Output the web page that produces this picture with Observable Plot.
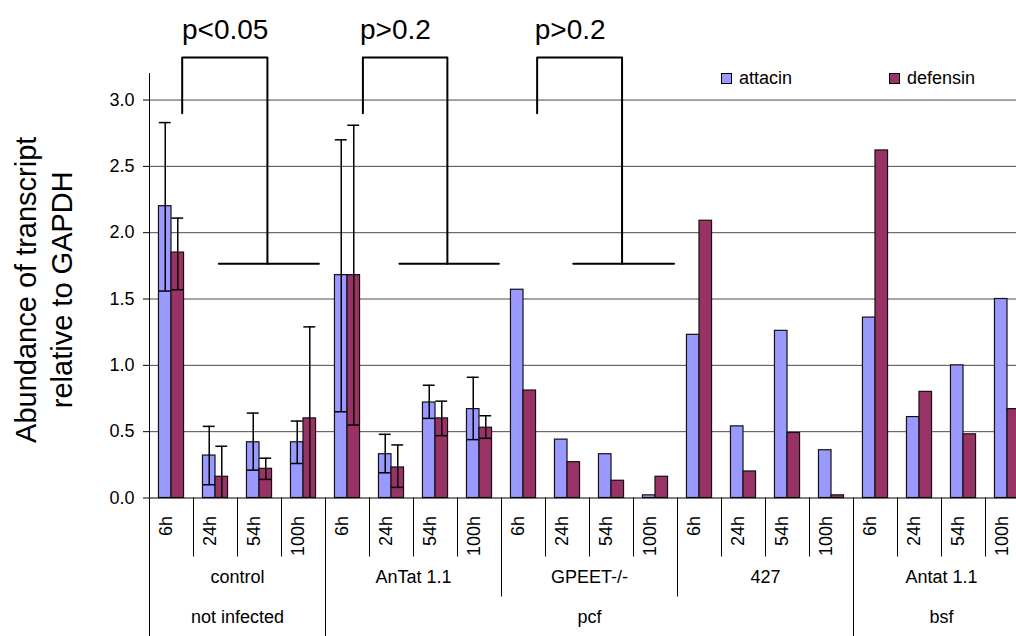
<!DOCTYPE html>
<html>
<head>
<meta charset="utf-8">
<script src="https://cdn.jsdelivr.net/npm/d3@7"></script>
<script src="https://cdn.jsdelivr.net/npm/@observablehq/plot@0.6"></script>
<style>
  html, body { margin: 0; padding: 0; background: #fff; overflow: hidden; }
  #wrap { position: relative; width: 1016px; height: 636px; overflow: hidden;
          font-family: "Liberation Sans", Arial, sans-serif; }
  #wrap svg { overflow: hidden !important; }
  .lg { position: absolute; display: flex; align-items: center; font-size: 18px; line-height: 18px; color: #000; }
  .lg .sw { width: 11px; height: 11px; box-sizing: border-box; border: 1.2px solid #000; margin-right: 7px; }
</style>
</head>
<body>
<div id="wrap"></div>
<script>
// ---------------- data ----------------
const stages = ["not infected", "pcf", "bsf"];
const strains = ["control", "AnTat 1.1", "GPEET-/-", "427", "Antat 1.1"];
const strainStage = ["not infected", "pcf", "pcf", "pcf", "bsf"];
const times = ["6h", "24h", "54h", "100h"];
const series = ["attacin", "defensin"];
const seriesColors = ["#9999FF", "#993366"];

const attacin  = [2.20, 0.32, 0.42, 0.42, 1.68, 0.33, 0.72, 0.67, 1.57, 0.44, 0.33, 0.02, 1.23, 0.54, 1.26, 0.36, 1.36, 0.61, 1.00, 1.50];
const defensin = [1.85, 0.16, 0.22, 0.60, 1.68, 0.23, 0.60, 0.53, 0.81, 0.27, 0.13, 0.16, 2.09, 0.20, 0.49, 0.02, 2.62, 0.80, 0.48, 0.67];
const attacinLow   = [1.56, 0.10, 0.21, 0.26, 0.65, 0.19, 0.60, 0.44];
const attacinHigh  = [2.83, 0.54, 0.64, 0.58, 2.70, 0.48, 0.85, 0.91];
const defensinLow  = [1.57, 0.00, 0.14, 0.00, 0.55, 0.08, 0.47, 0.45];
const defensinHigh = [2.11, 0.39, 0.30, 1.29, 2.81, 0.40, 0.73, 0.62];

const yTicks = [0, 0.5, 1, 1.5, 2, 2.5, 3];
const gridValues = [0.5, 1, 1.5, 2, 2.5, 3];

const pLabels = ["p<0.05", "p>0.2", "p>0.2"];

// annotation geometry (category-index units on x, value units on y)
const bracketGeom = [
  {label: 0, textX: 1.72, left: 0.743, right: 2.68, barStart: 1.575, barEnd: 3.85},
  {label: 1, textX: 5.59, left: 4.85,  right: 6.77, barStart: 5.68,  barEnd: 7.94},
  {label: 2, textX: 9.56, left: 8.81,  right: 10.74, barStart: 9.63, barEnd: 11.92}
];
const bracketTop = 3.32, legBottom = 2.90, barLevel = 1.766, labelY = 3.46;

// ---------------- tables ----------------
const nT = times.length;
const rows = [];
strains.forEach((s, si) => times.forEach((t, ti) => {
  const i = si * nT + ti;
  rows.push({i, strain: s, time: t, attacin: attacin[i], defensin: defensin[i]});
}));
const errs = [];
attacinLow.forEach((lo, i) => errs.push({i, s: 0, lo, hi: attacinHigh[i]}));
defensinLow.forEach((lo, i) => errs.push({i, s: 1, lo, hi: defensinHigh[i]}));

const strainRows = strains.map((s, si) => ({name: s, start: si * nT, n: nT}));
const stageRows = stages.map(st => {
  const idx = strainStage.map((v, k) => v === st ? k : -1).filter(k => k >= 0);
  return {name: st, start: idx[0] * nT, n: idx.length * nT};
});
const nCat = strains.length * nT;
const stageBounds = new Set(stageRows.flatMap(d => [d.start, d.start + d.n]));
const strainBounds = new Set(strainRows.flatMap(d => [d.start, d.start + d.n]));
const bounds = d3.range(nCat + 1);
const bStage = bounds.filter(b => stageBounds.has(b));
const bStrain = bounds.filter(b => !stageBounds.has(b) && strainBounds.has(b));
const bTime = bounds.filter(b => !stageBounds.has(b) && !strainBounds.has(b));

const bracketPaths = [];
bracketGeom.forEach((b, k) => {
  bracketPaths.push({z: "a" + k, x: b.left, y: legBottom});
  bracketPaths.push({z: "a" + k, x: b.left, y: bracketTop});
  bracketPaths.push({z: "a" + k, x: b.right, y: bracketTop});
  bracketPaths.push({z: "a" + k, x: b.right, y: barLevel});
  bracketPaths.push({z: "b" + k, x: b.barStart, y: barLevel});
  bracketPaths.push({z: "b" + k, x: b.barEnd, y: barLevel});
});

// ---------------- layout ----------------
const BW = 0.285;   // bar width in category units
const CAP = 0.135;  // half cap width
const W = 1016, H = 636;
const frameL = 149, frameR = 1029, frameT = 73, frameB = 497.5;

const ctr = (i, s) => i + 0.5 + (s === 0 ? -BW / 2 : BW / 2);

const chart = Plot.plot({
  width: W, height: H,
  marginLeft: frameL, marginRight: W - frameR, marginTop: frameT, marginBottom: H - frameB,
  style: {fontFamily: '"Liberation Sans", Arial, sans-serif', fontSize: "18px", background: "#fff", color: "#000", overflow: "hidden"},
  x: {type: "linear", domain: [0, nCat], range: [frameL, frameR], axis: null},
  y: {domain: [0, 3.2], range: [frameB, frameT], ticks: yTicks, tickFormat: d => d.toFixed(1),
      tickSize: 6, tickPadding: 9, label: null},
  marks: [
    Plot.ruleY(gridValues, {stroke: "#4a4a4a", strokeWidth: 1}),
    Plot.rect(rows, {x1: d => d.i + 0.5 - BW, x2: d => d.i + 0.5, y1: 0, y2: "attacin",
      fill: seriesColors[0], stroke: "#111", strokeWidth: 1.2}),
    Plot.rect(rows, {x1: d => d.i + 0.5, x2: d => d.i + 0.5 + BW, y1: 0, y2: "defensin",
      fill: seriesColors[1], stroke: "#111", strokeWidth: 1.2}),
    Plot.ruleX(errs, {x: d => ctr(d.i, d.s), y1: "lo", y2: "hi", stroke: "#000", strokeWidth: 1.5}),
    Plot.ruleY(errs, {y: "hi", x1: d => ctr(d.i, d.s) - CAP, x2: d => ctr(d.i, d.s) + CAP, stroke: "#000", strokeWidth: 1.5}),
    Plot.ruleY(errs.filter(d => d.lo > 0), {y: "lo", x1: d => ctr(d.i, d.s) - CAP, x2: d => ctr(d.i, d.s) + CAP, stroke: "#000", strokeWidth: 1.5}),
    Plot.ruleX([0], {stroke: "#000", strokeWidth: 1}),
    Plot.ruleY([0], {stroke: "#000", strokeWidth: 1}),
    // hierarchical category axis separators
    Plot.ruleX(bTime, {x: d => d, y1: 0, y2: 0, insetBottom: -59, stroke: "#000", strokeWidth: 1}),
    Plot.ruleX(bStrain, {x: d => d, y1: 0, y2: 0, insetBottom: -99, stroke: "#000", strokeWidth: 1}),
    Plot.ruleX(bStage, {x: d => d, y1: 0, y2: 0, insetBottom: -140, stroke: "#000", strokeWidth: 1}),
    // category labels
    Plot.text(rows, {x: d => d.i + 0.5, text: "time", frameAnchor: "bottom", rotate: -90,
      textAnchor: "end", dy: 18, fontSize: 18, fill: "#000"}),
    Plot.text(strainRows, {x: d => d.start + d.n / 2, text: "name", frameAnchor: "bottom",
      dy: 85, fontSize: 18, fill: "#000"}),
    Plot.text(stageRows, {x: d => d.start + d.n / 2, text: "name", frameAnchor: "bottom",
      dy: 125, fontSize: 18, fill: "#000"}),
    // y label
    Plot.text(["Abundance of transcript\nrelative to GAPDH"], {frameAnchor: "left", rotate: -90,
      textAnchor: "middle", lineAnchor: "middle",
      dx: -107, dy: 4, fontSize: 29, lineHeight: 1.22, fill: "#000"}),
    // significance brackets
    Plot.line(bracketPaths, {x: "x", y: "y", z: "z", stroke: "#000", strokeWidth: 2, curve: "linear"}),
    Plot.text(bracketGeom, {x: "textX", y: () => labelY, text: d => pLabels[d.label],
      lineAnchor: "bottom", fontSize: 28, fill: "#000"})
  ]
});

const wrap = document.getElementById("wrap");
wrap.appendChild(chart);

// legend (inside plot area, top right)
const legendPos = [{left: 721, top: 69}, {left: 889, top: 69}];
series.forEach((s, k) => {
  const el = document.createElement("div");
  el.className = "lg";
  el.style.left = legendPos[k].left + "px";
  el.style.top = legendPos[k].top + "px";
  el.innerHTML = `<span class="sw" style="background:${seriesColors[k]}"></span><span>${s}</span>`;
  wrap.appendChild(el);
});
</script>
</body>
</html>
